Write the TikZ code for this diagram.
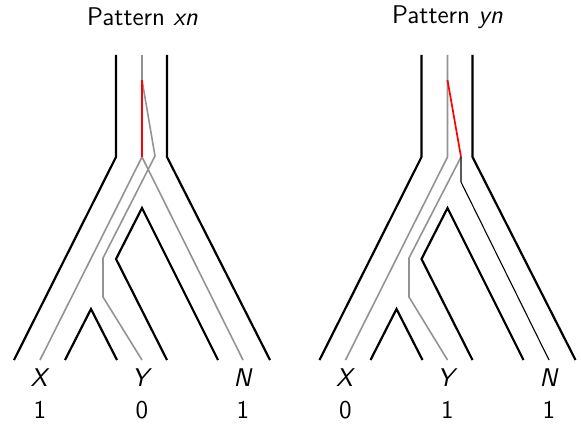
\documentclass[tikz,border=0pt]{standalone}
\begin{document}
\begin{tikzpicture}[x=0.5pt,y=-0.5pt,
  wall/.style={line width=1.1pt,black},
  lin/.style={line width=0.8pt,gray!85},
  mut/.style={line width=0.85pt,red},
  thin/.style={line width=0.55pt,black},
  lab/.style={font=\sffamily\fontsize{12.8}{15}\selectfont,inner sep=0pt}]
\useasboundingbox (0,0) rectangle (581,433);
% ---------- left panel ----------
\node[lab] (t1) at (142.5,17) {Pattern \textit{xn}};
\draw[wall] (116,55) -- (116,157) -- (14,360);
\draw[wall] (167,55) -- (167,157) -- (270,360);
\draw[wall] (167,360) -- (116,259) -- (142,208) -- (218,360);
\draw[wall] (65,360) -- (91,309) -- (117,360);
\draw[lin] (142,55) -- (142,157) -- (40,360);
\draw[lin] (142,157) -- (243,360);
\draw[lin] (142,80) -- (155,156) -- (103,258) -- (103,297) -- (142,360);
\draw[mut] (142,80) -- (142,157);
\node[lab] (x1) at (40,378) {\textit{X}};
\node[lab] (y1) at (142,378) {\textit{Y}};
\node[lab] (n1) at (243,378) {\textit{N}};
\node[lab] (vx1) at (40,410) {1};
\node[lab] (vy1) at (142,410) {0};
\node[lab] (vn1) at (243,410) {1};
% ---------- right panel ----------
\begin{scope}[xshift=152.75pt]
\node[lab] (t2) at (142,17) {Pattern \textit{yn}};
\draw[wall] (116,55) -- (116,157) -- (14,360);
\draw[wall] (167,55) -- (167,157) -- (270,360);
\draw[wall] (167,360) -- (116,259) -- (142,208) -- (218,360);
\draw[wall] (65,360) -- (91,309) -- (117,360);
\draw[lin] (142,55) -- (142,157) -- (40,360);
\draw[lin] (155.5,157) -- (103.5,258) -- (103.5,297) -- (142,360);
\draw[thin] (155.5,157) -- (155.5,182) -- (243.5,360);
\draw[mut] (142,80) -- (155.5,157);
\node[lab] (x2) at (40,378) {\textit{X}};
\node[lab] (y2) at (142,378) {\textit{Y}};
\node[lab] (n2) at (243.5,378) {\textit{N}};
\node[lab] (vx2) at (40,410) {0};
\node[lab] (vy2) at (142,410) {1};
\node[lab] (vn2) at (243.5,410) {1};
\end{scope}
\end{tikzpicture}
\end{document}
